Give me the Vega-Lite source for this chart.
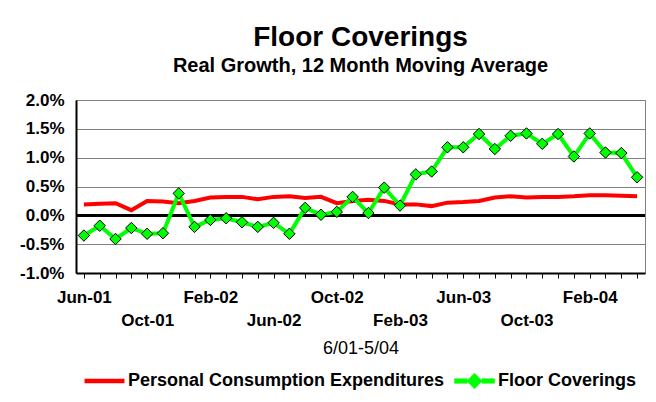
{
  "$schema": "https://vega.github.io/schema/vega-lite/v6.json",
  "width": 569,
  "height": 173,
  "autosize": {"type": "none"},
  "padding": {"left": 76, "top": 100, "right": 11, "bottom": 129},
  "background": "white",
  "config": {
    "font": "Liberation Sans",
    "view": {"stroke": "#808080", "strokeWidth": 1}
  },
  "title": {
    "text": "Floor Coverings",
    "subtitle": "Real Growth, 12 Month Moving Average",
    "anchor": "middle",
    "font": "Liberation Sans",
    "fontSize": 28,
    "fontWeight": "bold",
    "color": "black",
    "subtitleFont": "Liberation Sans",
    "subtitleFontSize": 20,
    "subtitleFontWeight": "bold",
    "subtitleColor": "black",
    "subtitlePadding": 4,
    "offset": 15
  },
  "data": {
    "values": [
      {"date": "2001-06-01", "series": "Personal Consumption Expenditures", "value": 0.19},
      {"date": "2001-07-01", "series": "Personal Consumption Expenditures", "value": 0.20},
      {"date": "2001-08-01", "series": "Personal Consumption Expenditures", "value": 0.21},
      {"date": "2001-09-01", "series": "Personal Consumption Expenditures", "value": 0.09},
      {"date": "2001-10-01", "series": "Personal Consumption Expenditures", "value": 0.25},
      {"date": "2001-11-01", "series": "Personal Consumption Expenditures", "value": 0.24},
      {"date": "2001-12-01", "series": "Personal Consumption Expenditures", "value": 0.21},
      {"date": "2002-01-01", "series": "Personal Consumption Expenditures", "value": 0.25},
      {"date": "2002-02-01", "series": "Personal Consumption Expenditures", "value": 0.31},
      {"date": "2002-03-01", "series": "Personal Consumption Expenditures", "value": 0.32},
      {"date": "2002-04-01", "series": "Personal Consumption Expenditures", "value": 0.32},
      {"date": "2002-05-01", "series": "Personal Consumption Expenditures", "value": 0.28},
      {"date": "2002-06-01", "series": "Personal Consumption Expenditures", "value": 0.32},
      {"date": "2002-07-01", "series": "Personal Consumption Expenditures", "value": 0.33},
      {"date": "2002-08-01", "series": "Personal Consumption Expenditures", "value": 0.30},
      {"date": "2002-09-01", "series": "Personal Consumption Expenditures", "value": 0.32},
      {"date": "2002-10-01", "series": "Personal Consumption Expenditures", "value": 0.21},
      {"date": "2002-11-01", "series": "Personal Consumption Expenditures", "value": 0.25},
      {"date": "2002-12-01", "series": "Personal Consumption Expenditures", "value": 0.27},
      {"date": "2003-01-01", "series": "Personal Consumption Expenditures", "value": 0.25},
      {"date": "2003-02-01", "series": "Personal Consumption Expenditures", "value": 0.19},
      {"date": "2003-03-01", "series": "Personal Consumption Expenditures", "value": 0.19},
      {"date": "2003-04-01", "series": "Personal Consumption Expenditures", "value": 0.16},
      {"date": "2003-05-01", "series": "Personal Consumption Expenditures", "value": 0.22},
      {"date": "2003-06-01", "series": "Personal Consumption Expenditures", "value": 0.23},
      {"date": "2003-07-01", "series": "Personal Consumption Expenditures", "value": 0.25},
      {"date": "2003-08-01", "series": "Personal Consumption Expenditures", "value": 0.31},
      {"date": "2003-09-01", "series": "Personal Consumption Expenditures", "value": 0.33},
      {"date": "2003-10-01", "series": "Personal Consumption Expenditures", "value": 0.31},
      {"date": "2003-11-01", "series": "Personal Consumption Expenditures", "value": 0.32},
      {"date": "2003-12-01", "series": "Personal Consumption Expenditures", "value": 0.32},
      {"date": "2004-01-01", "series": "Personal Consumption Expenditures", "value": 0.33},
      {"date": "2004-02-01", "series": "Personal Consumption Expenditures", "value": 0.35},
      {"date": "2004-03-01", "series": "Personal Consumption Expenditures", "value": 0.35},
      {"date": "2004-04-01", "series": "Personal Consumption Expenditures", "value": 0.34},
      {"date": "2004-05-01", "series": "Personal Consumption Expenditures", "value": 0.33},
      {"date": "2001-06-01", "series": "Floor Coverings", "value": -0.35},
      {"date": "2001-07-01", "series": "Floor Coverings", "value": -0.18},
      {"date": "2001-08-01", "series": "Floor Coverings", "value": -0.41},
      {"date": "2001-09-01", "series": "Floor Coverings", "value": -0.22},
      {"date": "2001-10-01", "series": "Floor Coverings", "value": -0.32},
      {"date": "2001-11-01", "series": "Floor Coverings", "value": -0.31},
      {"date": "2001-12-01", "series": "Floor Coverings", "value": 0.38},
      {"date": "2002-01-01", "series": "Floor Coverings", "value": -0.20},
      {"date": "2002-02-01", "series": "Floor Coverings", "value": -0.08},
      {"date": "2002-03-01", "series": "Floor Coverings", "value": -0.05},
      {"date": "2002-04-01", "series": "Floor Coverings", "value": -0.12},
      {"date": "2002-05-01", "series": "Floor Coverings", "value": -0.20},
      {"date": "2002-06-01", "series": "Floor Coverings", "value": -0.13},
      {"date": "2002-07-01", "series": "Floor Coverings", "value": -0.32},
      {"date": "2002-08-01", "series": "Floor Coverings", "value": 0.13},
      {"date": "2002-09-01", "series": "Floor Coverings", "value": 0.01},
      {"date": "2002-10-01", "series": "Floor Coverings", "value": 0.06},
      {"date": "2002-11-01", "series": "Floor Coverings", "value": 0.32},
      {"date": "2002-12-01", "series": "Floor Coverings", "value": 0.04},
      {"date": "2003-01-01", "series": "Floor Coverings", "value": 0.48},
      {"date": "2003-02-01", "series": "Floor Coverings", "value": 0.17},
      {"date": "2003-03-01", "series": "Floor Coverings", "value": 0.71},
      {"date": "2003-04-01", "series": "Floor Coverings", "value": 0.76},
      {"date": "2003-05-01", "series": "Floor Coverings", "value": 1.18},
      {"date": "2003-06-01", "series": "Floor Coverings", "value": 1.18},
      {"date": "2003-07-01", "series": "Floor Coverings", "value": 1.41},
      {"date": "2003-08-01", "series": "Floor Coverings", "value": 1.15},
      {"date": "2003-09-01", "series": "Floor Coverings", "value": 1.38},
      {"date": "2003-10-01", "series": "Floor Coverings", "value": 1.42},
      {"date": "2003-11-01", "series": "Floor Coverings", "value": 1.24},
      {"date": "2003-12-01", "series": "Floor Coverings", "value": 1.41},
      {"date": "2004-01-01", "series": "Floor Coverings", "value": 1.02},
      {"date": "2004-02-01", "series": "Floor Coverings", "value": 1.42},
      {"date": "2004-03-01", "series": "Floor Coverings", "value": 1.09},
      {"date": "2004-04-01", "series": "Floor Coverings", "value": 1.08},
      {"date": "2004-05-01", "series": "Floor Coverings", "value": 0.66}
    ]
  },
  "encoding": {
    "x": {
      "field": "date",
      "type": "ordinal",
      "timeUnit": "utcyearmonth",
      "scale": {"type": "point", "padding": 0.5},
      "axis": {
        "title": "6/01-5/04",
        "titleFontSize": 18,
        "titleFontWeight": "normal",
        "titleColor": "black",
        "titlePadding": 11,
        "labelExpr": "(((utcyear(datum.value)-2001)*12+utcmonth(datum.value)-5) % 8 == 0) ? utcFormat(datum.value, '%b-%y') : ((((utcyear(datum.value)-2001)*12+utcmonth(datum.value)-5) % 8 == 4) ? ['', utcFormat(datum.value, '%b-%y')] : '')",
        "labelAngle": 0,
        "labelFontSize": 17,
        "labelFontWeight": "bold",
        "labelColor": "black",
        "labelBaseline": "alphabetic",
        "labelPadding": 24,
        "labelLineHeight": 23,
        "labelOverlap": false,
        "tickSize": 5,
        "tickColor": "black",
        "tickWidth": 1,
        "domainColor": "black",
        "domainWidth": 2,
        "grid": false
      }
    },
    "y": {
      "field": "value",
      "type": "quantitative",
      "scale": {"domain": [-1, 2], "nice": false},
      "axis": {
        "title": null,
        "values": [-1, -0.5, 0, 0.5, 1, 1.5, 2],
        "labelExpr": "(datum.value < 0 ? '-' : '') + format(abs(datum.value), '.1f') + '%'",
        "grid": true,
        "gridColor": "#808080",
        "gridWidth": 1,
        "ticks": false,
        "tickSize": 0,
        "domainColor": "black",
        "domainWidth": 2,
        "labelFontSize": 17,
        "labelFontWeight": "bold",
        "labelColor": "black",
        "labelPadding": 12
      }
    }
  },
  "layer": [
    {
      "mark": {"type": "rule", "color": "black", "strokeWidth": 2},
      "encoding": {"y": {"datum": 0, "type": "quantitative"}, "x": null}
    },
    {
      "transform": [{"filter": "datum.series === 'Personal Consumption Expenditures'"}],
      "mark": {"type": "line", "strokeWidth": 4},
      "encoding": {
        "color": {
          "field": "series",
          "type": "nominal",
          "scale": {"domain": ["Personal Consumption Expenditures", "Floor Coverings"], "range": ["#ff0000", "#00ff00"]},
          "legend": {
            "orient": "none",
            "legendX": 19.5,
            "legendY": 272,
            "direction": "horizontal",
            "title": null,
            "padding": 0,
            "labelFontSize": 18,
            "labelFontWeight": "bold",
            "labelColor": "black",
            "labelLimit": 0,
            "symbolSize": 1369,
            "labelOffset": 14.5,
            "columnPadding": 8,
            "encode": {
              "symbols": {
                "update": {
                  "shape": {"signal": "datum.label === 'Floor Coverings' ? 'M-1.08,-0.12H-0.4V0.12H-1.08Z M0.4,-0.12H1.08V0.12H0.4Z M0,-0.42L0.42,0L0,0.42L-0.42,0Z' : 'M-1.08,-0.12H1.08V0.12H-1.08Z'"},
                  "fill": {"signal": "datum.label === 'Floor Coverings' ? '#00ff00' : '#ff0000'"},
                  "stroke": {"signal": "datum.label === 'Floor Coverings' ? '#000000' : '#ff0000'"},
                  "strokeWidth": {"signal": "datum.label === 'Floor Coverings' ? 0.6 : 0"},
                  "opacity": {"value": 1}
                }
              }
            }
          }
        }
      }
    },
    {
      "transform": [{"filter": "datum.series === 'Floor Coverings'"}],
      "mark": {"type": "line", "strokeWidth": 4},
      "encoding": {
        "color": {"field": "series", "type": "nominal"}
      }
    },
    {
      "transform": [{"filter": "datum.series === 'Floor Coverings'"}],
      "mark": {"type": "point", "shape": "diamond", "filled": true, "size": 130, "fill": "#00ff00", "stroke": "black", "strokeWidth": 1, "opacity": 1},
      "encoding": {}
    }
  ]
}
